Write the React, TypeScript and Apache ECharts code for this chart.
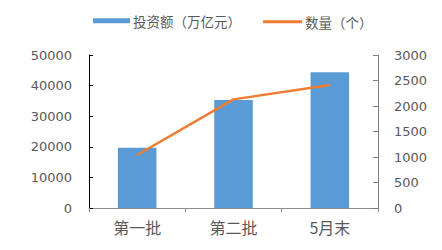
import React, { useEffect, useRef } from "react";
import * as echarts from "echarts";

const categories = ["第一批", "第二批", "5月末"];
const investment = [19700, 35300, 44400];
const counts = [1040, 2130, 2410];
const leftTicks = [0, 10000, 20000, 30000, 40000, 50000];
const rightTicks = [0, 500, 1000, 1500, 2000, 2500, 3000];
const seriesNames = ["投资额（万亿元）", "数量（个）"];

const CJK = '"Noto Sans CJK SC", "Noto Sans", sans-serif';
const NUM = '"DejaVu Sans", sans-serif';

export default function App() {
  const ref = useRef<HTMLDivElement>(null);
  useEffect(() => {
    if (!ref.current) return;
    const chart = echarts.init(ref.current, undefined, { renderer: "svg" });
    const legendText = { fontFamily: CJK, fontSize: 13.5, color: "#595959", padding: [0, 0, 0, -2] };
    chart.setOption({
      animation: false,
      backgroundColor: "#ffffff",
      grid: { left: 89, right: 64, top: 55, bottom: 42 },
      legend: [
        {
          left: 93,
          top: 14,
          padding: 0,
          itemWidth: 37,
          itemHeight: 5,
          textStyle: legendText,
          data: [{ name: seriesNames[0], icon: "rect" }],
        },
        {
          left: 263,
          top: 15,
          padding: 0,
          itemWidth: 39,
          itemHeight: 3,
          textStyle: legendText,
          data: [{ name: seriesNames[1], icon: "rect", itemStyle: { color: "#ED7D31" } }],
        },
      ],
      xAxis: {
        type: "category",
        data: categories,
        axisLine: { lineStyle: { color: "#8c8c8c", width: 1 } },
        axisTick: { show: true, length: 4, lineStyle: { color: "#8c8c8c" } },
        axisLabel: { fontFamily: CJK, fontSize: 16, color: "#595959", margin: 11 },
      },
      yAxis: [
        {
          type: "value",
          min: leftTicks[0],
          max: leftTicks[leftTicks.length - 1],
          interval: leftTicks[1] - leftTicks[0],
          splitLine: { show: false },
          axisLine: { show: true, lineStyle: { color: "#000000" } },
          axisTick: { show: true, inside: true, length: 4, lineStyle: { color: "#000000" } },
          axisLabel: { fontFamily: NUM, fontSize: 13, color: "#595959", margin: 17, formatter: (v: number) => String(v) },
        },
        {
          type: "value",
          min: rightTicks[0],
          max: rightTicks[rightTicks.length - 1],
          interval: rightTicks[1] - rightTicks[0],
          splitLine: { show: false },
          axisLine: { show: true, lineStyle: { color: "#7f7f7f" } },
          axisTick: { show: true, inside: true, length: 5, lineStyle: { color: "#7f7f7f" } },
          axisLabel: { fontFamily: NUM, fontSize: 13, color: "#595959", margin: 16, formatter: (v: number) => String(v) },
        },
      ],
      series: [
        {
          name: seriesNames[0],
          type: "bar",
          data: investment,
          barWidth: "40%",
          itemStyle: { color: "#5B9BD5" },
        },
        {
          name: seriesNames[1],
          type: "line",
          yAxisIndex: 1,
          data: counts,
          symbol: "none",
          lineStyle: { color: "#ED7D31", width: 2.5 },
          itemStyle: { color: "#ED7D31" },
        },
      ],
    });
    return () => chart.dispose();
  }, []);
  return <div ref={ref} style={{ width: 442, height: 250, margin: -8 }} />;
}
